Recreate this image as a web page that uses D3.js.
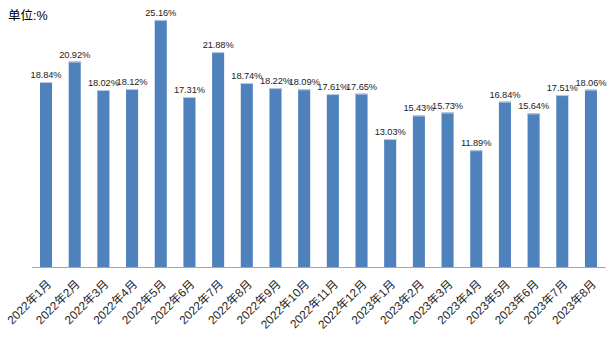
<!DOCTYPE html>
<html><head><meta charset="utf-8">
<script src="https://cdn.jsdelivr.net/npm/d3@7"></script>
<style>body{margin:0;background:#fff}svg{display:block}</style>
</head><body>
<script>
const categories = ["2022年1月","2022年2月","2022年3月","2022年4月","2022年5月","2022年6月","2022年7月","2022年8月","2022年9月","2022年10月","2022年11月","2022年12月","2023年1月","2023年2月","2023年3月","2023年4月","2023年5月","2023年6月","2023年7月","2023年8月"];
const values = [18.84,20.92,18.02,18.12,25.16,17.31,21.88,18.74,18.22,18.09,17.61,17.65,13.03,15.43,15.73,11.89,16.84,15.64,17.51,18.06];
const unitLabel = "单位:%";

const W = 607, H = 349;
const svg = d3.select("body").append("svg").attr("width", W).attr("height", H);
const font = "'Liberation Sans', 'Noto Sans CJK SC', sans-serif";

const x = d3.scaleBand().domain(categories).range([31.7, 605.3]).paddingInner(0.58).paddingOuter(0.29);
const y = d3.scaleLinear().domain([0, 25]).range([267, 21.5]);

svg.append("text").attr("x", 8).attr("y", 20).attr("font-family", font).attr("font-size", 12.5).attr("fill", "#000").text(unitLabel);

const g = svg.append("g");
g.selectAll("rect.bar").data(values).join("rect").attr("class","bar")
  .attr("x", (d,i)=>x(categories[i])).attr("width", x.bandwidth())
  .attr("y", d=>y(d)).attr("height", d=>y(0)-y(d)).attr("fill", "#4F81BD");
g.selectAll("rect.hl").data(values).join("rect").attr("class","hl")
  .attr("x", (d,i)=>x(categories[i])).attr("width", x.bandwidth())
  .attr("y", d=>y(d)).attr("height", 1).attr("fill", "#B9CDE5");

g.selectAll("text.lbl").data(values).join("text").attr("class","lbl")
  .attr("x", (d,i)=>x(categories[i]) + x.bandwidth()/2).attr("y", d=>y(d)-4)
  .attr("text-anchor","middle").attr("font-family", font).attr("font-size", 9.3)
  .attr("letter-spacing", -0.1)
  .attr("fill", "#222").text(d=>d.toFixed(2)+"%");

const xAxis = d3.axisBottom(x).tickSize(0).tickPadding(0);
const ax = svg.append("g").attr("transform", "translate(0,267)").call(xAxis);
ax.select(".domain").attr("stroke", "#A6A6A6").attr("stroke-width", 1.2);
ax.selectAll("text").attr("font-family", font).attr("font-size", 11.8).attr("fill", "#222")
  .attr("text-anchor", "end").attr("dy", 0)
  .attr("transform", "translate(6,18) rotate(-45)");
</script>
</body></html>
